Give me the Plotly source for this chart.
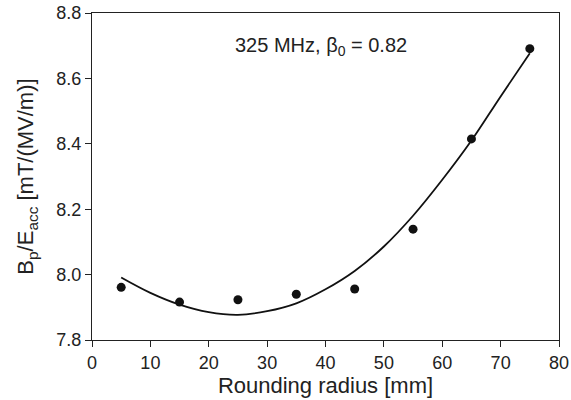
import plotly.graph_objects as go

# Measured data points
radius_mm = [5, 15, 25, 35, 45, 55, 65, 75]
bp_eacc = [7.961, 7.916, 7.923, 7.940, 7.956, 8.139, 8.415, 8.691]

# Fitted curve
fit_x = [5, 10, 15, 20, 25, 30, 35, 40, 45, 50, 55, 60, 65, 70, 75]
fit_y = [7.991, 7.944, 7.908, 7.885, 7.877, 7.888, 7.912, 7.955, 8.011,
         8.086, 8.180, 8.290, 8.410, 8.545, 8.677]

x_ticks = [0, 10, 20, 30, 40, 50, 60, 70, 80]
y_ticks = [7.8, 8.0, 8.2, 8.4, 8.6, 8.8]

FONT = "Liberation Sans, Arial, sans-serif"

fig = go.Figure()
fig.add_trace(go.Scatter(x=fit_x, y=fit_y, mode="lines",
                         line=dict(color="#111111", width=1.8, shape="spline", smoothing=1.0),
                         showlegend=False, hoverinfo="skip"))
fig.add_trace(go.Scatter(x=radius_mm, y=bp_eacc, mode="markers",
                         marker=dict(color="#111111", size=9),
                         showlegend=False))

fig.add_annotation(x=0.49, y=0.897, xref="paper", yref="paper",
                   xanchor="center", yanchor="middle",
                   text="325 MHz, β<sub>0</sub> = 0.82", showarrow=False,
                   font=dict(family=FONT, size=20, color="#222222"))

fig.update_layout(
    width=571, height=400,
    margin=dict(l=92, r=12, t=13, b=60),
    paper_bgcolor="white", plot_bgcolor="white",
    font=dict(family=FONT, color="#222222"),
)
fig.update_xaxes(range=[0, 80], tickvals=x_ticks, ticktext=[str(v) for v in x_ticks],
                 ticks="outside", ticklen=6, tickwidth=1, tickcolor="#222222",
                 showline=True, linecolor="#222222", linewidth=1, mirror=True,
                 showgrid=False, zeroline=False, automargin=False,
                 tickfont=dict(size=18),
                 title=dict(text="Rounding radius [mm]", font=dict(size=22), standoff=4))
fig.update_yaxes(range=[7.8, 8.8], tickvals=y_ticks, ticktext=[f"{v:.1f}" for v in y_ticks],
                 ticks="outside", ticklen=6, tickwidth=1, tickcolor="#222222",
                 showline=True, linecolor="#222222", linewidth=1, mirror=True,
                 showgrid=False, zeroline=False, automargin=False,
                 tickfont=dict(size=18),
                 title=dict(text="B<sub>p</sub>/E<sub>acc</sub> [mT/(MV/m)]",
                            font=dict(size=22), standoff=16))

fig.write_html("out.html", config={"displayModeBar": False},
               post_script="document.body.style.margin='0';")
